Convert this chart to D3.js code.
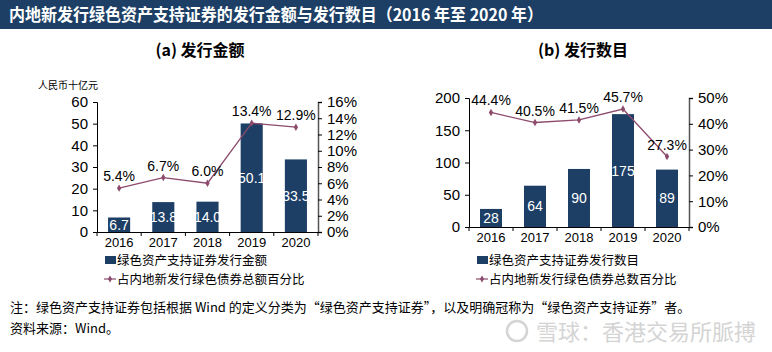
<!DOCTYPE html>
<html>
<head>
  <meta charset="UTF-8">
  <title>绿色资产支持证券</title>
  <script src="https://d3js.org/d3.v7.min.js"></script>
  <style>
    body { margin: 0; background: #fff; }
    text { font-family: "Liberation Sans", Arial, "Noto Sans CJK SC", sans-serif; }
    .cjk { font-family: "Noto Sans CJK SC", sans-serif; }
  </style>
</head>
<body>
  <script>
    // data
    var years = ["2016", "2017", "2018", "2019", "2020"];
    var amount = [6.7, 13.8, 14.0, 50.1, 33.5];
    var amountShare = [5.4, 6.7, 6.0, 13.4, 12.9];
    var count = [28, 64, 90, 175, 89];
    var countShare = [44.4, 40.5, 41.5, 45.7, 27.3];
    var amountTicks = [0, 10, 20, 30, 40, 50, 60];
    var amountPctTicks = [0, 2, 4, 6, 8, 10, 12, 14, 16];
    var countTicks = [0, 50, 100, 150, 200];
    var countPctTicks = [0, 10, 20, 30, 40, 50];

    var navy = "#1d3f66";
    var mauve = "#8c4a6c";

    var svg = d3.select("body").append("svg")
      .attr("width", 772).attr("height", 352);

    // title bar
    svg.append("rect").attr("x", 0).attr("y", 0).attr("width", 772).attr("height", 29)
      .attr("fill", navy);
    svg.append("text").attr("class", "cjk").attr("x", 9).attr("y", 21)
      .attr("fill", "#fff").attr("font-size", 17).attr("font-weight", "bold")
      .attr("textLength", 534).attr("lengthAdjust", "spacingAndGlyphs")
      .text("内地新发行绿色资产支持证券的发行金额与发行数目（2016 年至 2020 年）");

    function drawPanel(cfg) {
      var g = svg.append("g");
      var x = d3.scaleBand().domain(years).range([cfg.x0, cfg.x1]).paddingInner(0.5).paddingOuter(0.25);
      var y = d3.scaleLinear().domain([0, cfg.yMax]).range([cfg.yBottom, cfg.yTop]);
      var y2 = d3.scaleLinear().domain([0, cfg.pMax]).range([cfg.yBottom, cfg.yTop]);

      g.append("text").attr("class", "cjk").attr("x", cfg.titleX).attr("y", 56)
        .attr("text-anchor", "middle").attr("font-size", 16).attr("font-weight", "bold")
        .text(cfg.title);

      g.selectAll(".bar").data(cfg.values).enter().append("rect")
        .attr("x", function (d, i) { return x(years[i]); })
        .attr("y", function (d) { return y(d); })
        .attr("width", x.bandwidth())
        .attr("height", function (d) { return y(0) - y(d); })
        .attr("fill", navy);

      g.selectAll(".blab").data(cfg.values).enter().append("text")
        .attr("x", function (d, i) { return x(years[i]) + x.bandwidth() / 2; })
        .attr("y", function (d) { return (y(d) + y(0)) / 2 + 5; })
        .attr("text-anchor", "middle").attr("font-size", 14).attr("fill", "#fff")
        .text(function (d) { return cfg.fmt(d); });

      var yAxis = d3.axisLeft(y).tickValues(cfg.yTicks).tickSize(4).tickPadding(5);
      var ga = g.append("g").attr("transform", "translate(" + cfg.x0 + ",0)").call(yAxis);
      var y2Axis = d3.axisRight(y2).tickValues(cfg.pTicks).tickSize(4).tickPadding(5)
        .tickFormat(function (d) { return d + "%"; });
      var gb = g.append("g").attr("transform", "translate(" + cfg.x1 + ",0)").call(y2Axis);
      var xAxis = d3.axisBottom(x).tickSize(0).tickPadding(6);
      var gx = g.append("g").attr("transform", "translate(0," + cfg.yBottom + ")").call(xAxis);
      // category separator ticks
      gx.selectAll(".sep").data(years.concat(["end"])).enter().append("line")
        .attr("x1", function (d, i) { return cfg.x0 + i * x.step(); })
        .attr("x2", function (d, i) { return cfg.x0 + i * x.step(); })
        .attr("y1", 0).attr("y2", 4).attr("stroke", "#000");
      [ga, gb, gx].forEach(function (a) {
        a.selectAll("text").attr("font-size", 15).attr("fill", "#000")
          .style("font-family", "'Liberation Sans', Arial, sans-serif");
        a.select(".domain").attr("stroke", "#000");
        a.selectAll(".tick line").attr("stroke", "#000");
      });
      gx.selectAll("text").attr("font-size", 13);
      gb.select(".domain").attr("stroke", "#555").attr("stroke-width", 1.5);

      var line = d3.line()
        .x(function (d, i) { return x(years[i]) + x.bandwidth() / 2; })
        .y(function (d) { return y2(d); });
      g.append("path").datum(cfg.pct).attr("d", line)
        .attr("fill", "none").attr("stroke", mauve).attr("stroke-width", 1.3);
      g.selectAll(".pt").data(cfg.pct).enter().append("path")
        .attr("d", d3.symbol(d3.symbolDiamond, 16))
        .attr("transform", function (d, i) {
          return "translate(" + (x(years[i]) + x.bandwidth() / 2) + "," + y2(d) + ")";
        })
        .attr("fill", mauve);
      g.selectAll(".plab").data(cfg.pct).enter().append("text")
        .attr("x", function (d, i) { return x(years[i]) + x.bandwidth() / 2; })
        .attr("y", function (d) { return y2(d) - 7; })
        .attr("text-anchor", "middle").attr("font-size", 14)
        .text(function (d) { return d.toFixed(1) + "%"; });

      // legend
      var lx = cfg.x0 + 8;
      g.append("rect").attr("x", lx).attr("y", 256).attr("width", 11).attr("height", 8)
        .attr("fill", navy);
      g.append("text").attr("class", "cjk").attr("x", lx + 12).attr("y", 265)
        .attr("font-size", 12.5).text(cfg.legend1);
      g.append("line").attr("x1", lx - 1).attr("x2", lx + 11).attr("y1", 279).attr("y2", 279)
        .attr("stroke", mauve).attr("stroke-width", 1.2);
      g.append("path").attr("d", d3.symbol(d3.symbolDiamond, 14))
        .attr("transform", "translate(" + (lx + 5) + ",279)").attr("fill", mauve);
      g.append("text").attr("class", "cjk").attr("x", lx + 12).attr("y", 284)
        .attr("font-size", 12.5).text(cfg.legend2);
    }

    drawPanel({
      title: "(a)  发行金额", titleX: 200,
      x0: 97, x1: 318, yTop: 102, yBottom: 232,
      yMax: 60, pMax: 16, yTicks: amountTicks, pTicks: amountPctTicks,
      values: amount, pct: amountShare,
      fmt: function (d) { return d.toFixed(1); },
      legend1: "绿色资产支持证券发行金额",
      legend2: "占内地新发行绿色债券总额百分比"
    });
    svg.append("text").attr("class", "cjk").attr("x", 98).attr("y", 89)
      .attr("text-anchor", "end").attr("font-size", 10).text("人民币十亿元");

    drawPanel({
      title: "(b)  发行数目", titleX: 583,
      x0: 469, x1: 689, yTop: 98, yBottom: 227,
      yMax: 200, pMax: 50, yTicks: countTicks, pTicks: countPctTicks,
      values: count, pct: countShare,
      fmt: function (d) { return d; },
      legend1: "绿色资产支持证券发行数目",
      legend2: "占内地新发行绿色债券总数百分比"
    });

    // footer
    svg.append("text").attr("class", "cjk").attr("x", 10).attr("y", 312).attr("font-size", 13)
      .text("注：绿色资产支持证券包括根据 Wind 的定义分类为“绿色资产支持证券”，以及明确冠称为“绿色资产支持证券”者。");
    svg.append("text").attr("class", "cjk").attr("x", 10).attr("y", 333).attr("font-size", 13)
      .text("资料来源：Wind。");
    svg.append("text").attr("class", "cjk").attr("x", 536).attr("y", 340).attr("font-size", 22)
      .attr("fill", "#d4d4d4").text("雪球：香港交易所脈搏");
    svg.append("circle").attr("cx", 517).attr("cy", 331).attr("r", 10)
      .attr("fill", "none").attr("stroke", "#d4d4d4").attr("stroke-width", 2.5);
  </script>
</body>
</html>
